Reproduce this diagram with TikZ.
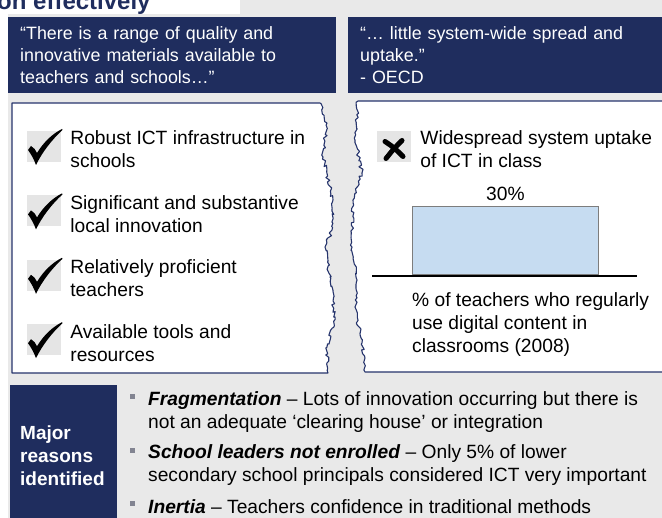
\documentclass[tikz,border=0pt]{standalone}
\usepackage{fontspec}
\setmainfont{Liberation Sans}
\usepackage{tikz}
\usetikzlibrary{positioning, decorations.pathmorphing}

\definecolor{navy}{RGB}{31,45,94}
\definecolor{framenavy}{RGB}{38,52,108}
\definecolor{panelgray}{RGB}{233,233,233}
\definecolor{boxgray}{RGB}{229,229,229}
\definecolor{bulletgray}{RGB}{130,132,145}
\definecolor{barblue}{RGB}{198,220,241}
\definecolor{bargray}{RGB}{125,125,125}

% hand drawn tick inside a grey square
\newcommand{\tickglyph}[1]{%
  \fill[shift={(#1.center)}] (-16,3.5) .. controls (-15,1) .. (-13,-0.5)
      .. controls (-10,1) and (-8.5,3.5) .. (-7,6.5)
      .. controls (0,-5) and (9,-13) .. (18,-17.5) -- (18.5,-16.5)
      .. controls (8,-7) and (-2,6) .. (-8,18.5)
      .. controls (-10,13) and (-13,7.5) .. (-16,3.5) -- cycle;}

\begin{document}
\begin{tikzpicture}[x=1pt, y=-1pt, font=\fontsize{19.2}{23}\selectfont,
    quotebox/.style={fill=navy, text=white, anchor=north west, align=left,
        inner xsep=12pt, inner ysep=0pt, minimum height=76pt,
        font=\fontsize{17.85}{22}\selectfont},
    panel/.style={fill=white, draw=framenavy, line width=1.1pt, line join=round},
    torn/.style={decoration={random steps, segment length=2.6pt, amplitude=1.8pt}},
    tickbox/.style={fill=boxgray, minimum width=34pt, minimum height=31pt, inner sep=0pt},
    itemtext/.style={align=left, inner sep=0pt},
    bulletsq/.style={fill=bulletgray, minimum size=5pt, inner sep=0pt}]
    \useasboundingbox (0,0) rectangle (662,518);
    \clip (0,0) rectangle (662,518);
    \pgfmathsetseed{3}

    % background and cut off heading
        \fill[panelgray] (8,0) rectangle (670,520);
        \fill[white] (0,0) rectangle (240,14);
        \node[anchor=base west, inner sep=0pt, text=navy,
              font=\fontsize{24}{24}\selectfont\bfseries] (heading) at (-3,10) {on effectively};

    % the two quotes
        \node[quotebox, text width=304pt] (quoteleft) at (8,17)
            {“There is a range of quality and\\innovative materials available to\\teachers and schools…”};
        \node[quotebox, text width=330pt] (quoteright) at (348,17)
            {“… little system-wide spread and\\uptake.”\\- OECD};

    % torn panels
        \filldraw[panel] (12,103) -- (320,103)
            decorate[torn]{ -- (327,123) -- (323,157) -- (333,200) -- (332,230) -- (325,247)
                -- (330,277) -- (335,317) -- (327,347) -- (328,373)}
            -- (12,373) -- cycle;
        \filldraw[panel] (670,101) -- (358,101)
            decorate[torn]{ -- (355,140) -- (362,173) -- (353,200) -- (352,247) -- (357,280)
                -- (355,307) -- (362,343) -- (365,372)}
            -- (670,372) -- cycle;

    % strengths
        \node[tickbox] (tick1) at (44,146.5) {};
        \node[tickbox, below=33pt of tick1] (tick2) {};
        \node[tickbox, below=33pt of tick2] (tick3) {};
        \node[tickbox, below=33pt of tick3] (tick4) {};
        \tickglyph{tick1}
        \tickglyph{tick2}
        \tickglyph{tick3}
        \tickglyph{tick4}
        \node[itemtext, right=9pt of tick1, yshift=-3pt] (infra) {Robust ICT infrastructure in\\schools};
        \node[itemtext, right=9pt of tick2, yshift=-3pt] (innov) {Significant and substantive\\local innovation};
        \node[itemtext, right=9pt of tick3, yshift=-3pt] (teachers) {Relatively proficient\\teachers};
        \node[itemtext, right=9pt of tick4, yshift=-3pt] (tools) {Available tools and\\resources};

    % weakness and bar
        \node[tickbox] (cross) at (394,146.5) {};
        \draw[line width=5pt, line cap=round, shift={(cross.center)}]
            (-9,-5) .. controls (0,1) .. (9,10)
            (8,-6) .. controls (0,2) .. (-8,12);
        \node[itemtext, right=9pt of cross, yshift=-3pt] (uptake) {Widespread system uptake\\of ICT in class};
        \node[fill=barblue, draw=bargray, line width=0.8pt, minimum width=186pt,
              minimum height=68pt, inner sep=0pt, anchor=south west] (bar) at (412,275) {};
        \node[inner sep=0pt, above=5pt of bar] (barvalue) {30\%};
        \coordinate (axisleft) at (372,276);
        \coordinate (axisright) at (637,276);
        \draw[line width=2.2pt] (axisleft) -- (axisright);
        \node[itemtext, below=17pt of bar.south west, anchor=north west] (barcaption)
            {\% of teachers who regularly\\use digital content in\\classrooms (2008)};

    % reasons
        \node[fill=navy, text=white, anchor=north west, minimum width=107pt,
              minimum height=141pt, text width=87pt, inner xsep=10pt, align=left,
              font=\fontsize{19}{23}\selectfont\bfseries] (reasons) at (10,385)
            {Major\\reasons\\identified};
        \node[bulletsq] (dot1) at (132,397) {};
        \node[bulletsq] (dot2) at (132,451) {};
        \node[bulletsq] (dot3) at (132,504) {};
        \node[itemtext, anchor=west] (fragment) at (148,412.5)
            {\textbf{\textit{Fragmentation}} – Lots of innovation occurring but there is\\not an adequate ‘clearing house’ or integration};
        \node[itemtext, anchor=west] (leaders) at (148,465)
            {\textbf{\textit{School leaders not enrolled}} – Only 5\% of lower\\secondary school principals considered ICT very important};
        \node[itemtext, anchor=west] (inertia) at (148,507)
            {\textbf{\textit{Inertia}} – Teachers confidence in traditional methods};
\end{tikzpicture}
\end{document}
